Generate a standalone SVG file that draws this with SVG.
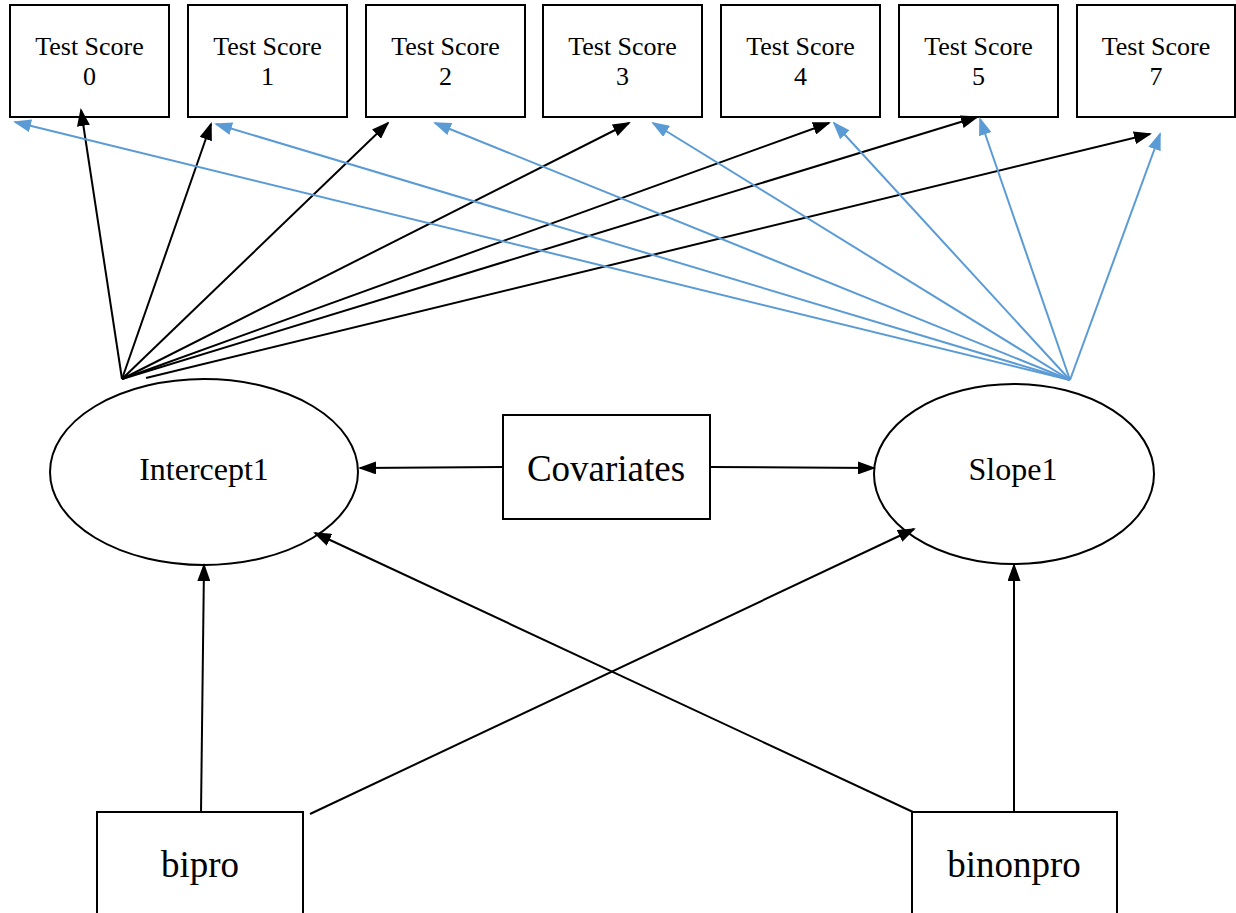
<svg xmlns="http://www.w3.org/2000/svg" width="1236" height="913" viewBox="0 0 1236 913">
<style>
.box{fill:#fff;stroke:#000;stroke-width:2}
.t{font-family:"Liberation Serif","Times New Roman",serif;fill:#000;text-anchor:middle}
.ts{font-size:26px}
.lat{font-size:32px}
.big{font-size:37px}
.k{stroke:#000;stroke-width:2;fill:none;marker-end:url(#ak)}
.b{stroke:#5B9BD5;stroke-width:2;fill:none;marker-end:url(#ab)}
</style>
<defs>
<marker id="ak" markerUnits="userSpaceOnUse" markerWidth="18" markerHeight="13" viewBox="0 0 18 13" refX="16" refY="6.5" orient="auto"><path d="M0,0 L18,6.5 L0,13 z" fill="#000"/></marker>
<marker id="ab" markerUnits="userSpaceOnUse" markerWidth="18" markerHeight="13" viewBox="0 0 18 13" refX="16" refY="6.5" orient="auto"><path d="M0,0 L18,6.5 L0,13 z" fill="#5B9BD5"/></marker>
</defs>
<rect width="1236" height="913" fill="#fff"/>
<g id="ts0"><rect class="box" x="10" y="5" width="159" height="112"/><text class="t ts" x="89.5" y="55">Test Score</text><text class="t ts" x="89.5" y="85">0</text></g>
<g id="ts1"><rect class="box" x="188" y="5" width="159" height="112"/><text class="t ts" x="267.5" y="55">Test Score</text><text class="t ts" x="267.5" y="85">1</text></g>
<g id="ts2"><rect class="box" x="366" y="5" width="159" height="112"/><text class="t ts" x="445.5" y="55">Test Score</text><text class="t ts" x="445.5" y="85">2</text></g>
<g id="ts3"><rect class="box" x="543" y="5" width="159" height="112"/><text class="t ts" x="622.5" y="55">Test Score</text><text class="t ts" x="622.5" y="85">3</text></g>
<g id="ts4"><rect class="box" x="721" y="5" width="159" height="112"/><text class="t ts" x="800.5" y="55">Test Score</text><text class="t ts" x="800.5" y="85">4</text></g>
<g id="ts5"><rect class="box" x="899" y="5" width="159" height="112"/><text class="t ts" x="978.5" y="55">Test Score</text><text class="t ts" x="978.5" y="85">5</text></g>
<g id="ts7"><rect class="box" x="1077" y="5" width="158" height="112"/><text class="t ts" x="1156" y="55">Test Score</text><text class="t ts" x="1156" y="85">7</text></g>
<g id="intercept"><ellipse class="box" cx="204" cy="472" rx="154" ry="93"/><text class="t lat" x="204" y="480">Intercept1</text></g>
<g id="slope"><ellipse class="box" cx="1014" cy="474" rx="140" ry="90"/><text class="t lat" x="1013" y="480">Slope1</text></g>
<g id="covariates"><rect class="box" x="503" y="415" width="207" height="104"/><text class="t big" x="606" y="481">Covariates</text></g>
<g id="bipro"><rect class="box" x="97" y="812" width="206" height="130"/><text class="t big" x="200" y="877">bipro</text></g>
<g id="binonpro"><rect class="box" x="912" y="812" width="205" height="130"/><text class="t big" x="1014" y="877">binonpro</text></g>
<g id="connectors">
<line class="k" x1="122" y1="379" x2="81" y2="110"/>
<line class="k" x1="122" y1="379" x2="211" y2="124"/>
<line class="k" x1="122" y1="379" x2="388" y2="123"/>
<line class="k" x1="122" y1="379" x2="629" y2="123"/>
<line class="k" x1="122" y1="379" x2="829" y2="123"/>
<line class="k" x1="122" y1="379" x2="977" y2="117"/>
<line class="k" x1="146" y1="378" x2="1150" y2="134"/>
<line class="b" x1="1070" y1="380" x2="15" y2="122"/>
<line class="b" x1="1070" y1="380" x2="216" y2="124"/>
<line class="b" x1="1070" y1="380" x2="435" y2="123"/>
<line class="b" x1="1070" y1="380" x2="653" y2="123"/>
<line class="b" x1="1070" y1="380" x2="834" y2="123"/>
<line class="b" x1="1070" y1="380" x2="980" y2="119"/>
<line class="b" x1="1070" y1="380" x2="1160" y2="134"/>
<line class="k" x1="503" y1="467" x2="360" y2="468"/>
<line class="k" x1="710" y1="467" x2="874" y2="468"/>
<line class="k" x1="201" y1="812" x2="204" y2="565"/>
<line class="k" x1="310" y1="814" x2="914" y2="529"/>
<line class="k" x1="913" y1="812" x2="315" y2="533"/>
<line class="k" x1="1014" y1="812" x2="1014" y2="565"/>
</g>
</svg>
